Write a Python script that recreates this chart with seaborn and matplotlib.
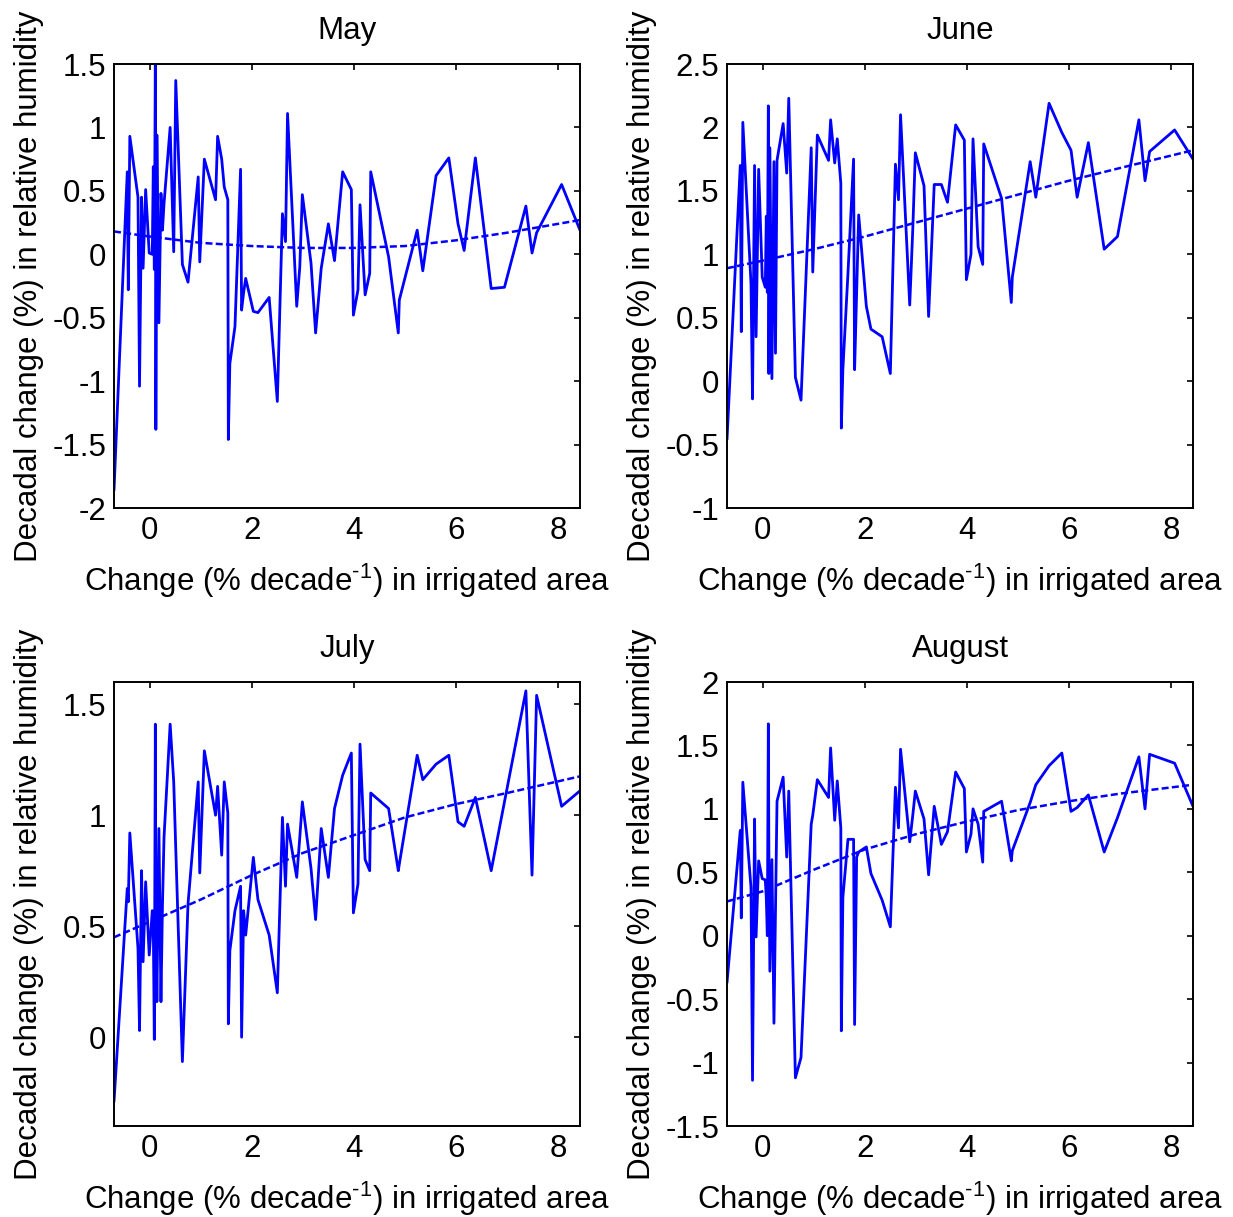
import numpy as np
import pandas as pd
import seaborn as sns
import matplotlib
matplotlib.use("Agg")
import matplotlib.pyplot as plt
from matplotlib.ticker import FuncFormatter

# ---------------- data ----------------
irrig_change = [-0.70, -0.44, -0.42, -0.39, -0.23, -0.20, -0.16, -0.13, -0.08, -0.01,
                0.05, 0.07, 0.09, 0.11, 0.12, 0.14, 0.18, 0.22, 0.25, 0.28,
                0.40, 0.47, 0.51, 0.64, 0.75, 0.95, 0.98, 1.07, 1.29, 1.33,
                1.41, 1.46, 1.53, 1.54, 1.57, 1.67, 1.78, 1.80, 1.84, 1.88,
                2.03, 2.12, 2.34, 2.50, 2.60, 2.66, 2.70, 2.88, 2.94, 2.99,
                3.16, 3.25, 3.36, 3.50, 3.62, 3.78, 3.95, 3.99, 4.08, 4.12,
                4.22, 4.31, 4.33, 4.68, 4.87, 4.89, 5.24, 5.35, 5.61, 5.86,
                6.04, 6.16, 6.38, 6.69, 6.95, 7.37, 7.49, 7.58, 8.07, 8.43]

rh_may = [-1.86, 0.65, -0.28, 0.93, 0.45, -1.04, 0.45, -0.11, 0.51, 0.01,
          0.00, 0.69, -0.12, 1.55, -1.38, 0.94, -0.54, 0.48, 0.19, 0.40,
          1.00, 0.02, 1.37, -0.08, -0.22, 0.61, -0.06, 0.75, 0.43, 0.93,
          0.75, 0.53, 0.43, -1.46, -0.86, -0.57, 0.67, -0.44, -0.30, -0.19,
          -0.45, -0.46, -0.34, -1.16, 0.32, 0.10, 1.11, -0.41, -0.10, 0.47,
          -0.07, -0.62, -0.11, 0.24, -0.05, 0.65, 0.51, -0.48, -0.28, 0.39,
          -0.32, -0.15, 0.65, -0.02, -0.62, -0.36, 0.19, -0.13, 0.62, 0.76,
          0.24, 0.03, 0.76, -0.27, -0.26, 0.38, 0.01, 0.17, 0.55, 0.19]

rh_june = [-0.46, 1.70, 0.39, 2.04, 0.77, -0.14, 1.70, 0.35, 1.67, 0.82,
           0.74, 1.30, 0.70, 2.17, 0.06, 1.84, 0.02, 1.73, 0.22, 1.74,
           2.03, 1.64, 2.23, 0.03, -0.15, 1.84, 0.86, 1.94, 1.74, 2.06,
           1.72, 1.91, 1.56, -0.37, 0.09, 0.85, 1.75, 0.09, 0.70, 1.31,
           0.59, 0.41, 0.35, 0.06, 1.71, 1.43, 2.10, 0.60, 1.20, 1.80,
           1.54, 0.51, 1.55, 1.55, 1.41, 2.02, 1.90, 0.80, 1.00, 1.91,
           1.06, 0.92, 1.87, 1.44, 0.62, 0.82, 1.73, 1.45, 2.19, 1.96,
           1.82, 1.45, 1.88, 1.04, 1.14, 2.06, 1.58, 1.81, 1.98, 1.75]

rh_july = [-0.29, 0.67, 0.61, 0.92, 0.40, 0.03, 0.75, 0.34, 0.70, 0.37,
           0.57, 0.50, -0.01, 1.41, 0.60, 0.16, 0.94, 0.16, 0.60, 0.90,
           1.41, 1.15, 0.85, -0.11, 0.60, 1.15, 0.74, 1.29, 1.00, 1.13,
           0.82, 1.15, 1.01, 0.06, 0.39, 0.57, 0.68, 0.00, 0.57, 0.46,
           0.81, 0.62, 0.46, 0.20, 0.99, 0.68, 0.96, 0.72, 0.90, 1.06,
           0.76, 0.53, 0.94, 0.72, 1.03, 1.18, 1.28, 0.56, 0.69, 1.32,
           0.80, 0.75, 1.10, 1.03, 0.75, 0.78, 1.27, 1.16, 1.23, 1.27,
           0.97, 0.95, 1.08, 0.75, 1.06, 1.56, 0.73, 1.54, 1.04, 1.11]

rh_august = [-0.37, 0.83, 0.14, 1.21, 0.38, -1.14, 0.92, -0.01, 0.59, 0.45,
             0.44, 0.30, 0.00, 1.67, 0.70, -0.28, 0.60, -0.69, 0.20, 1.06,
             1.25, 0.62, 1.14, -1.12, -0.96, 0.88, 0.95, 1.23, 1.09, 1.48,
             0.91, 1.22, 0.85, -0.75, 0.30, 0.76, 0.76, -0.70, 0.62, 0.66,
             0.70, 0.49, 0.28, 0.07, 1.17, 0.85, 1.47, 0.74, 0.95, 1.14,
             0.92, 0.48, 1.02, 0.72, 0.82, 1.29, 1.16, 0.66, 0.80, 1.00,
             0.88, 0.58, 0.98, 1.06, 0.59, 0.67, 1.05, 1.19, 1.34, 1.44,
             0.98, 1.01, 1.11, 0.66, 0.93, 1.41, 1.00, 1.43, 1.36, 1.02]

# fitted trend curves
trend_x = [-0.70, 0.0, 1.0, 2.0, 3.0, 4.0, 5.0, 6.0, 7.0, 8.43]
trend_may = [0.18, 0.14, 0.09, 0.065, 0.05, 0.05, 0.065, 0.11, 0.17, 0.27]
trend_june = [0.89, 0.95, 1.04, 1.14, 1.25, 1.36, 1.47, 1.58, 1.68, 1.82]
trend_july = [0.45, 0.52, 0.62, 0.73, 0.83, 0.91, 0.99, 1.05, 1.10, 1.175]
trend_august = [0.27, 0.35, 0.52, 0.68, 0.80, 0.90, 0.99, 1.06, 1.12, 1.19]

months = ["May", "June", "July", "August"]
series = [rh_may, rh_june, rh_july, rh_august]
trends = [trend_may, trend_june, trend_july, trend_august]
ylims = [(-2, 1.5), (-1, 2.5), (-0.4, 1.6), (-1.5, 2)]
yticks = [np.arange(-2, 1.51, 0.5), np.arange(-1, 2.51, 0.5),
          [0, 0.5, 1, 1.5], np.arange(-1.5, 2.01, 0.5)]
xticks = [0, 2, 4, 6, 8]

# ---------------- style ----------------
sns.set_theme(style="white")
plt.rcParams["font.family"] = ["Liberation Sans", "DejaVu Sans"]
plt.rcParams["mathtext.fontset"] = "custom"
plt.rcParams["mathtext.rm"] = "Liberation Sans"
plt.rcParams["mathtext.it"] = "Liberation Sans"
plt.rcParams["mathtext.default"] = "rm"
plt.rcParams["axes.unicode_minus"] = False
plt.rcParams["text.color"] = "black"
plt.rcParams["axes.labelcolor"] = "black"
plt.rcParams["axes.titlecolor"] = "black"

W, H = 1233, 1217
fig = plt.figure(figsize=(W / 100, H / 100), dpi=100)

boxes = [(114, 64), (727, 64), (114, 682), (727, 682)]
aw, ah = 466, 444
FS = 22.5

fmt = FuncFormatter(lambda v, p: "%g" % round(v, 2))
xlabel_text = "Change (% decade$^{\u2010" + "1}$) in irrigated area"

for i, (month, y, tr) in enumerate(zip(months, series, trends)):
    l, t = boxes[i]
    ax = fig.add_axes([l / W, 1 - (t + ah) / H, aw / W, ah / H])
    df = pd.DataFrame({"x": irrig_change, "y": y})
    sns.lineplot(data=df, x="x", y="y", ax=ax, color="#0000ff", lw=2.0,
                 estimator=None, sort=False)
    dtr = pd.DataFrame({"x": trend_x, "y": tr})
    sns.lineplot(data=dtr, x="x", y="y", ax=ax, color="#0000ff", lw=1.8,
                 linestyle=(0, (2.8, 1.3)), estimator=None, sort=False)
    ax.set_xlim(-0.70, 8.43)
    ax.set_ylim(*ylims[i])
    ax.set_xticks(xticks)
    ax.set_yticks(yticks[i])
    ax.xaxis.set_major_formatter(fmt)
    ax.yaxis.set_major_formatter(fmt)
    ax.tick_params(direction="in", length=4.5, width=1.2, top=True, right=True,
                   labelsize=FS, colors="black", pad=5.5)
    for s in ax.spines.values():
        s.set_visible(True)
        s.set_color("black")
        s.set_linewidth(1.4)
    ax.set_title(month, fontsize=FS, pad=18, color="black")
    ax.set_xlabel(xlabel_text, fontsize=FS, color="black")
    ax.set_ylabel("Decadal change (%) in relative humidity", fontsize=FS, color="black")
    ax.xaxis.set_label_coords(0.5, (508 - 562) / 444)
    ax.yaxis.set_label_coords((44 - 114) / 466, 0.5)

fig.savefig("out.png", dpi=100)
